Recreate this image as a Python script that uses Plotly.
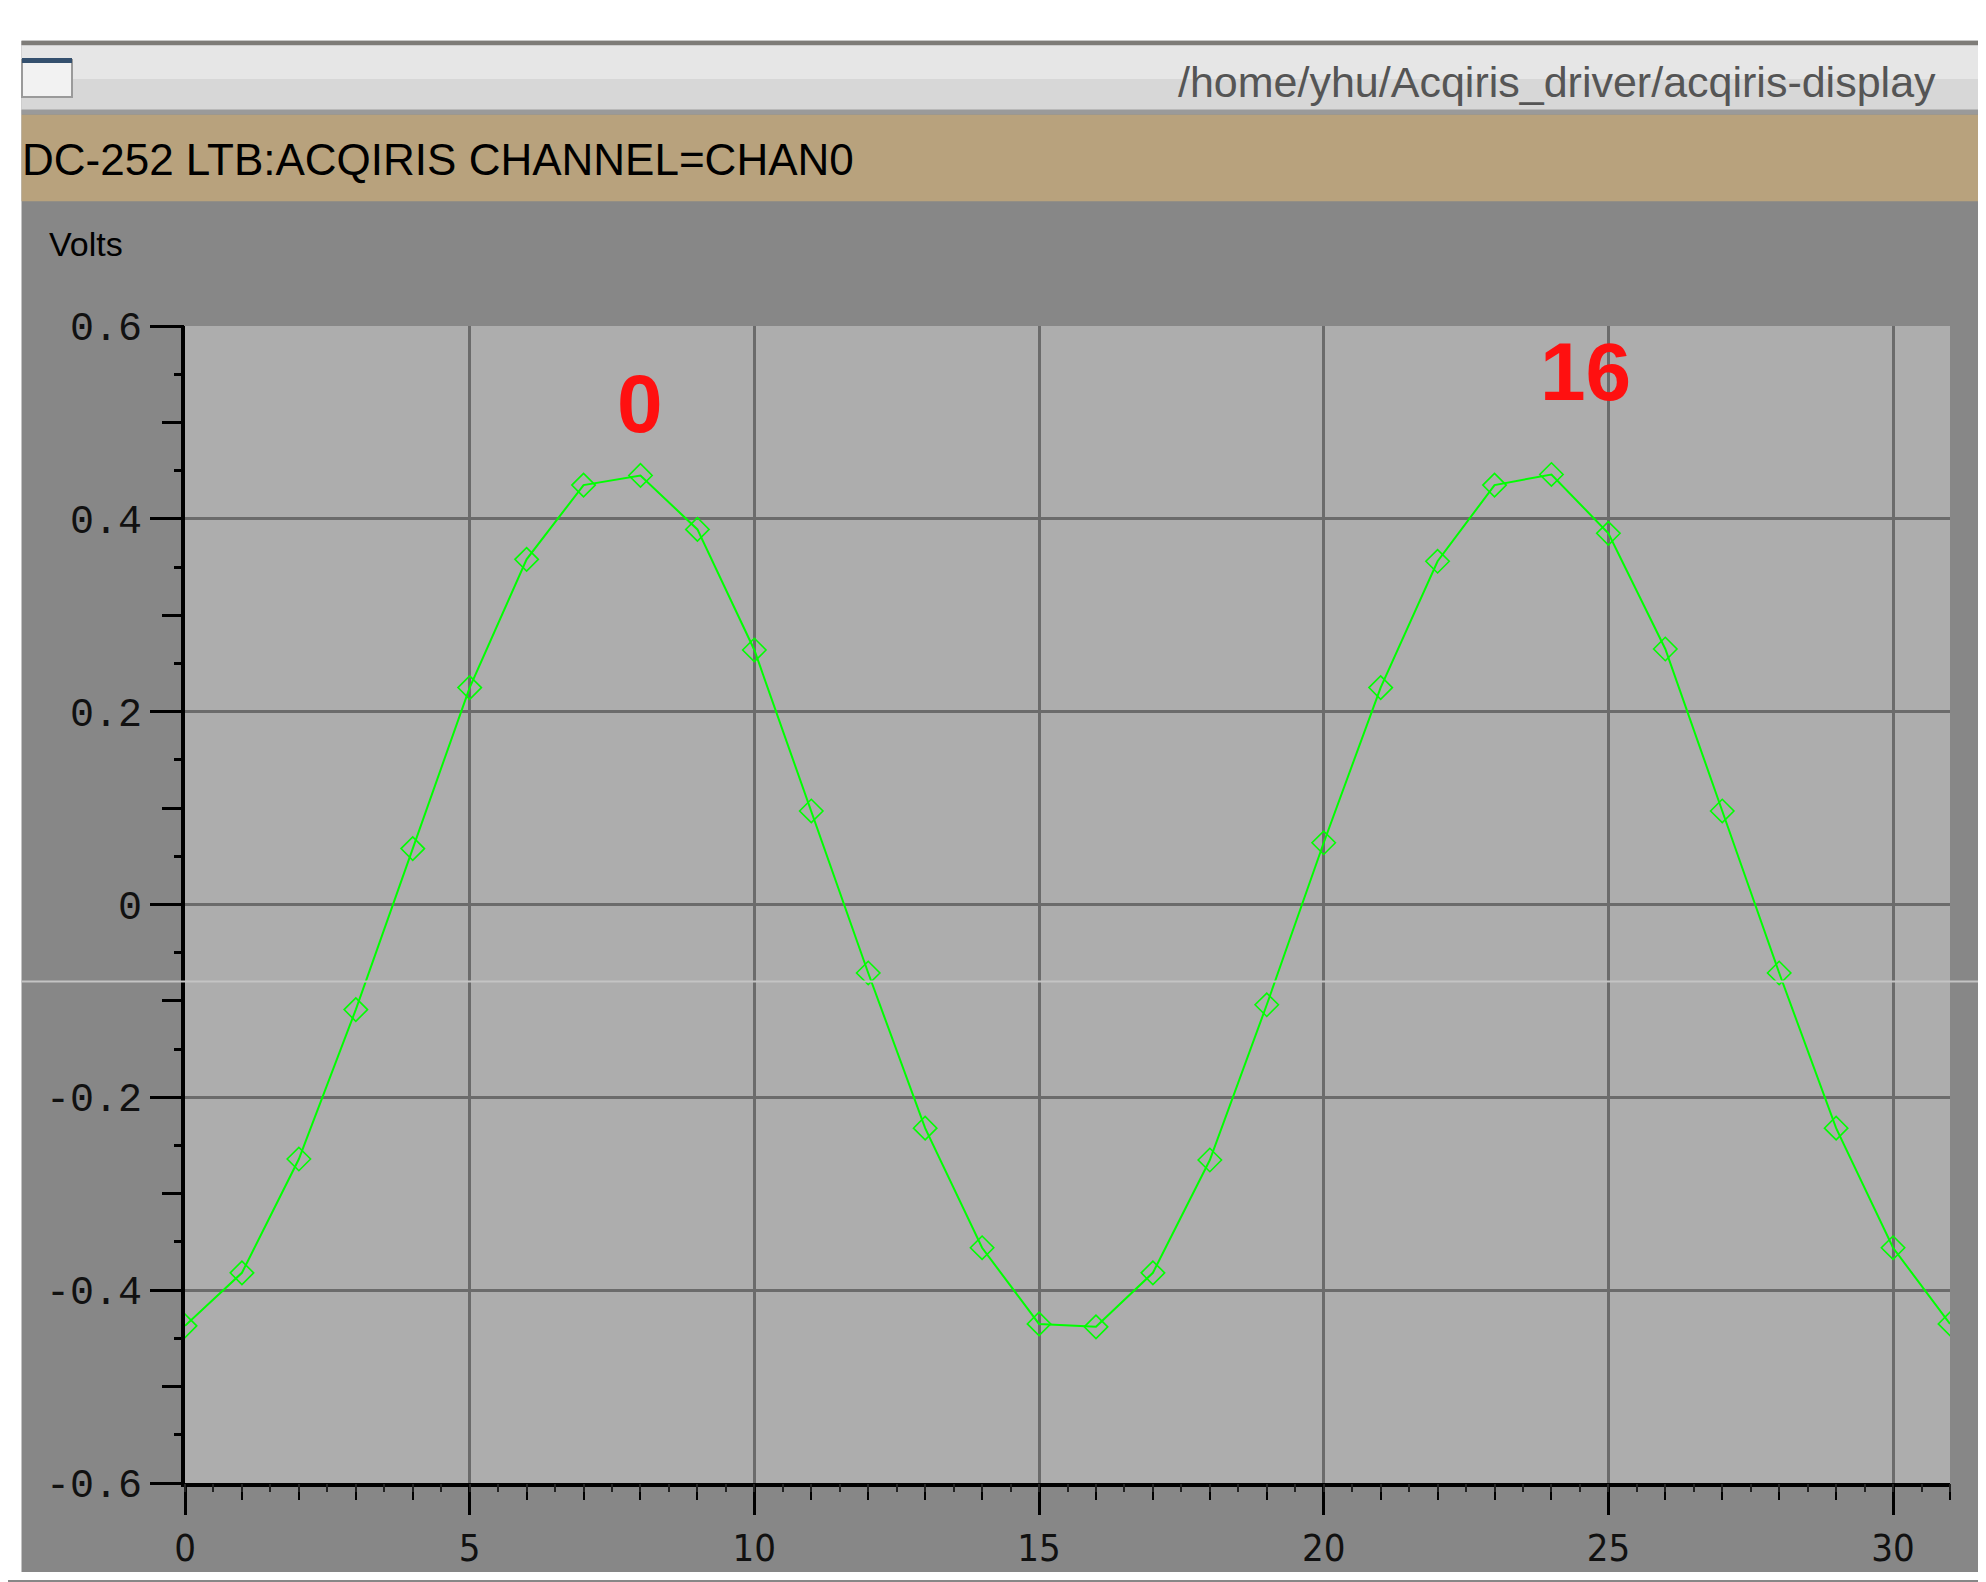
import plotly.graph_objects as go

# ---- data ----
sample_index = list(range(32))
volts = [-0.437, -0.382, -0.264, -0.109, 0.058, 0.225, 0.358, 0.435,
         0.445, 0.389, 0.264, 0.097, -0.071, -0.232, -0.356, -0.435,
         -0.438, -0.382, -0.265, -0.104, 0.064, 0.225, 0.356, 0.435,
         0.446, 0.385, 0.265, 0.097, -0.071, -0.232, -0.356, -0.435]

label_text = ["0", "16"]
label_x = [8.0, 24.6]
label_y = [0.52, 0.553]

x_tickvals = [0, 5, 10, 15, 20, 25, 30]
x_ticktext = ["0", "5", "10", "15", "20", "25", "30"]
y_tickvals = [0.6, 0.4, 0.2, 0, -0.2, -0.4, -0.6]
y_ticktext = ["0.6", "0.4", "0.2", "0", "-0.2", "-0.4", "-0.6"]

title_text = "DC-252 LTB:ACQIRIS CHANNEL=CHAN0"
window_path = "/home/yhu/Acqiris_driver/acqiris-display"
y_axis_name = "Volts"

# ---- geometry (window pixels; page body has an 8px margin) ----
OFF = 8
WIN_W, WIN_H = 1986, 1582
W, H = WIN_W - OFF, WIN_H - OFF
L, R, T, B = 185 - OFF, 1950 - OFF, 325.5 - OFF, 1489.5 - OFF
PW, PH = R - L, B - T


def px(x):
    return (x - OFF - L) / PW


def py(y):
    return (B - (y - OFF)) / PH


PANEL = "#878787"
PLOTBG = "#adadad"
GRID = "#6b6b6b"

fig = go.Figure()
fig.add_trace(go.Scatter(
    x=sample_index, y=volts, mode="lines+markers",
    line=dict(color="#00ff00", width=2),
    marker=dict(symbol="diamond-open", size=18, color="#00ff00",
                line=dict(width=1.6, color="#00ff00")),
    cliponaxis=True, showlegend=False, hoverinfo="skip"))
fig.add_trace(go.Scatter(x=[None], y=[None], xaxis="x2", yaxis="y2",
                         showlegend=False, hoverinfo="skip"))

shapes = []
NONE = dict(width=0)
# white surround (outside plot area only)
shapes.append(dict(type="rect", xref="paper", yref="paper", layer="below",
                   x0=px(0), x1=px(WIN_W + 5), y0=py(0), y1=py(38.5),
                   fillcolor="white", line=NONE))
shapes.append(dict(type="rect", xref="paper", yref="paper", layer="below",
                   x0=px(0), x1=px(21.5), y0=py(0), y1=py(WIN_H + 5),
                   fillcolor="white", line=NONE))
shapes.append(dict(type="rect", xref="paper", yref="paper", layer="below",
                   x0=px(0), x1=px(WIN_W + 5), y0=py(1579), y1=py(WIN_H + 5),
                   fillcolor="white", line=NONE))
# top dark line
shapes.append(dict(type="rect", xref="paper", yref="paper", layer="below",
                   x0=px(21.5), x1=px(WIN_W + 5), y0=py(38.5), y1=py(43),
                   fillcolor="#7e7c78", line=NONE))
# title bar (gradient approximation)
shapes.append(dict(type="rect", xref="paper", yref="paper", layer="below",
                   x0=px(21.5), x1=px(WIN_W + 5), y0=py(43), y1=py(77),
                   fillcolor="#e6e6e6", line=NONE))
shapes.append(dict(type="rect", xref="paper", yref="paper", layer="below",
                   x0=px(21.5), x1=px(WIN_W + 5), y0=py(77), y1=py(108),
                   fillcolor="#d7d7d7", line=NONE))
shapes.append(dict(type="rect", xref="paper", yref="paper", layer="below",
                   x0=px(21.5), x1=px(WIN_W + 5), y0=py(108), y1=py(113),
                   fillcolor="#9a9a9a", line=NONE))
# tan band
shapes.append(dict(type="rect", xref="paper", yref="paper", layer="below",
                   x0=px(21.5), x1=px(WIN_W + 5), y0=py(113), y1=py(200),
                   fillcolor="#b8a27d", line=NONE))
# window icon
shapes.append(dict(type="rect", xref="paper", yref="paper", layer="below",
                   x0=px(22), x1=px(72), y0=py(58), y1=py(95),
                   fillcolor="#f2f2f2", line=dict(width=2, color="#9a9a9a")))
shapes.append(dict(type="rect", xref="paper", yref="paper", layer="below",
                   x0=px(22), x1=px(72), y0=py(56), y1=py(61),
                   fillcolor="#34506e", line=NONE))
# light artefact line
shapes.append(dict(type="line", xref="paper", yref="paper", layer="above",
                   x0=px(21.5), x1=px(WIN_W + 5), y0=py(985), y1=py(985),
                   line=dict(width=2, color="#c4c4c4")))

annotations = []
for t, xx, yy in zip(label_text, label_x, label_y):
    annotations.append(dict(x=xx, y=yy, xref="x", yref="y", text=t,
                            showarrow=False,
                            font=dict(family="Liberation Sans", size=82,
                                      color="#ff1010", weight="bold")))
annotations.append(dict(x=px(20), y=py(158), xref="paper", yref="paper",
                        xanchor="left", yanchor="middle", text=title_text,
                        showarrow=False,
                        font=dict(family="Liberation Sans", size=44,
                                  color="#000000")))
annotations.append(dict(x=px(1176), y=py(80), xref="paper", yref="paper",
                        xanchor="left", yanchor="middle", text=window_path,
                        showarrow=False,
                        font=dict(family="Liberation Sans", size=43,
                                  color="#555555")))
annotations.append(dict(x=px(47), y=py(243), xref="paper", yref="paper",
                        xanchor="left", yanchor="middle", text=y_axis_name,
                        showarrow=False,
                        font=dict(family="Liberation Sans", size=34,
                                  color="#000000")))

fig.update_layout(
    width=W, height=H,
    margin=dict(l=L, r=W - R, t=T, b=H - B, pad=0),
    paper_bgcolor=PANEL, plot_bgcolor=PLOTBG,
    shapes=shapes, annotations=annotations,
    xaxis=dict(range=[0, 31], tickmode="array", tickvals=x_tickvals,
               ticktext=x_ticktext, showgrid=True, gridcolor=GRID,
               gridwidth=2.5, zeroline=False, showline=True,
               linecolor="black", linewidth=4, ticks="outside",
               ticklen=28, tickwidth=3, tickcolor="black",
               minor=dict(dtick=1, tick0=0, ticklen=13, tickwidth=2,
                          tickcolor="black", showgrid=False, ticks="outside"),
               tickfont=dict(family="Liberation Sans Narrow, DejaVu Sans Condensed, Liberation Sans",
                             size=38, color="#111111"),
               fixedrange=True),
    yaxis=dict(range=[-0.6, 0.6], tickmode="array", tickvals=y_tickvals,
               ticktext=y_ticktext, showgrid=True, gridcolor=GRID,
               gridwidth=2.5, zeroline=False, showline=True,
               linecolor="black", linewidth=4, ticks="outside",
               ticklen=31, tickwidth=3, tickcolor="black",
               minor=dict(dtick=0.1, tick0=0, ticklen=19, tickwidth=2.5,
                          tickcolor="black", showgrid=False, ticks="outside"),
               tickfont=dict(family="Liberation Mono", size=40,
                             color="#111111"),
               fixedrange=True),
    xaxis2=dict(overlaying="x", anchor="y", range=[0, 31], dtick=0.5,
                tick0=0, showticklabels=False, showgrid=False,
                zeroline=False, showline=False, ticks="outside", ticklen=8,
                tickwidth=2, tickcolor="#222222", side="bottom"),
    yaxis2=dict(overlaying="y", anchor="x", range=[-0.6, 0.6], dtick=0.05,
                tick0=0, showticklabels=False, showgrid=False,
                zeroline=False, showline=False, ticks="outside", ticklen=10,
                tickwidth=2.5, tickcolor="black", side="left"),
)

fig.write_html("out.html")
